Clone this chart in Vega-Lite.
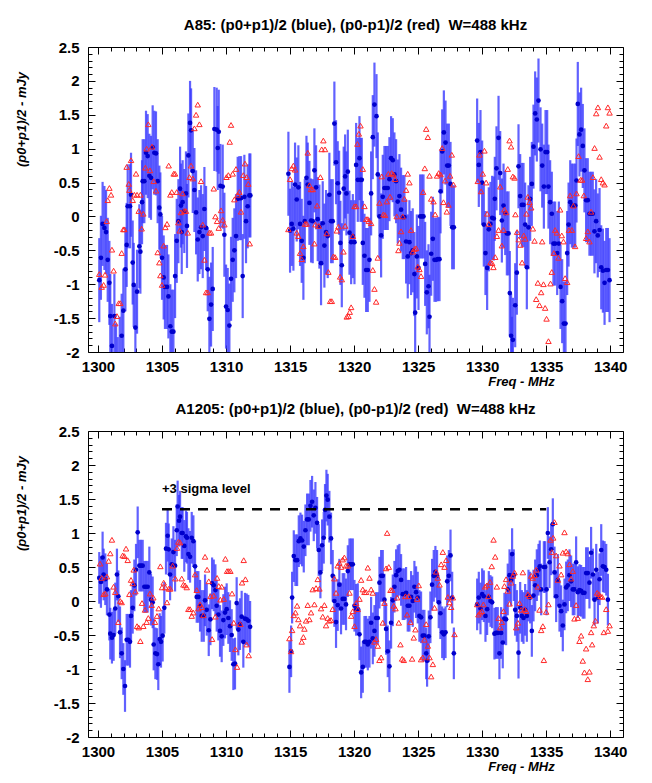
{
"$schema":"https://vega.github.io/schema/vega-lite/v6.json",
"padding":{"left":14,"top":17,"right":10,"bottom":4},
"spacing":12,
"config":{"view":{"stroke":"#000","strokeWidth":1},"font":"Liberation Sans","axis":{"labelFont":"Liberation Sans","titleFont":"Liberation Sans","labelColor":"#000","titleColor":"#000","tickColor":"#000","tickWidth":1,"grid":false,"domain":false}},
"datasets":{
"b1":[{"f":1300.10,"v":-0.94,"e":0.62},{"f":1300.23,"v":-0.61,"e":0.62},{"f":1300.36,"v":-0.11,"e":0.62},{"f":1300.50,"v":-0.17,"e":0.62},{"f":1300.63,"v":-0.23,"e":0.62},{"f":1300.76,"v":-0.64,"e":0.62},{"f":1300.89,"v":-0.98,"e":0.62},{"f":1300.96,"v":-1.47,"e":0.62},{"f":1301.09,"v":-1.91,"e":0.62},{"f":1301.28,"v":-1.47,"e":0.62},{"f":1301.41,"v":-2.2,"e":0.62},{"f":1301.54,"v":-2.4,"e":0.62},{"f":1301.70,"v":-2.1,"e":0.62},{"f":1301.85,"v":-1.76,"e":0.62},{"f":1301.98,"v":-1.39,"e":0.62},{"f":1302.14,"v":-0.78,"e":0.62},{"f":1302.24,"v":-0.42,"e":0.62},{"f":1302.32,"v":0.15,"e":0.62},{"f":1302.50,"v":0.15,"e":0.62},{"f":1302.58,"v":0.32,"e":0.62},{"f":1302.71,"v":-0.68,"e":0.62},{"f":1302.79,"v":-1.01,"e":0.62},{"f":1302.92,"v":-1.64,"e":0.62},{"f":1303.05,"v":-1.11,"e":0.62},{"f":1303.23,"v":-0.44,"e":0.62},{"f":1303.31,"v":-0.52,"e":0.62},{"f":1303.44,"v":0.21,"e":0.62},{"f":1303.49,"v":0.52,"e":0.62},{"f":1303.62,"v":0.52,"e":0.62},{"f":1303.75,"v":0.94,"e":0.62},{"f":1303.88,"v":0.89,"e":0.62},{"f":1304.01,"v":0.60,"e":0.62},{"f":1304.14,"v":0.57,"e":0.62},{"f":1304.27,"v":1.02,"e":0.62},{"f":1304.40,"v":0.94,"e":0.62},{"f":1304.53,"v":0.93,"e":0.62},{"f":1304.66,"v":0.52,"e":0.62},{"f":1304.79,"v":0.13,"e":0.62},{"f":1304.87,"v":0.03,"e":0.62},{"f":1305.00,"v":-0.61,"e":0.62},{"f":1305.13,"v":-0.90,"e":0.62},{"f":1305.23,"v":-1.04,"e":0.62},{"f":1305.39,"v":-1.04,"e":0.62},{"f":1305.50,"v":-1.18,"e":0.62},{"f":1305.65,"v":-1.62,"e":0.62},{"f":1305.76,"v":-1.70,"e":0.62},{"f":1305.89,"v":-1.70,"e":0.62},{"f":1306.02,"v":-0.88,"e":0.62},{"f":1306.15,"v":-0.36,"e":0.62},{"f":1306.28,"v":-0.07,"e":0.62},{"f":1306.41,"v":0.41,"e":0.62},{"f":1306.48,"v":0.16,"e":0.62},{"f":1306.54,"v":-0.23,"e":0.62},{"f":1306.61,"v":0.21,"e":0.62},{"f":1306.74,"v":0.08,"e":0.62},{"f":1306.87,"v":0.34,"e":0.62},{"f":1306.95,"v":-0.14,"e":0.62},{"f":1307.06,"v":0.90,"e":0.62},{"f":1307.19,"v":1.38,"e":0.62},{"f":1307.27,"v":1.27,"e":0.62},{"f":1307.40,"v":0.67,"e":0.62},{"f":1307.53,"v":0.39,"e":0.62},{"f":1307.66,"v":0.06,"e":0.62},{"f":1307.79,"v":-0.34,"e":0.62},{"f":1307.92,"v":-0.23,"e":0.62},{"f":1308.05,"v":-0.16,"e":0.62},{"f":1308.18,"v":-0.29,"e":0.62},{"f":1308.31,"v":0.11,"e":0.62},{"f":1308.44,"v":-0.17,"e":0.62},{"f":1308.57,"v":-0.78,"e":0.62},{"f":1308.70,"v":-1.51,"e":0.62},{"f":1308.83,"v":-1.30,"e":0.62},{"f":1308.96,"v":-1.07,"e":0.62},{"f":1309.09,"v":1.29,"e":0.62},{"f":1309.27,"v":1.28,"e":0.62},{"f":1309.35,"v":1.01,"e":0.62},{"f":1309.43,"v":1.25,"e":0.62},{"f":1309.56,"v":0.45,"e":0.62},{"f":1309.74,"v":0.44,"e":0.62},{"f":1309.87,"v":-0.27,"e":0.62},{"f":1310.00,"v":-1.33,"e":0.62},{"f":1310.13,"v":-1.38,"e":0.62},{"f":1310.26,"v":-1.61,"e":0.62},{"f":1310.39,"v":-0.92,"e":0.62},{"f":1310.52,"v":-0.64,"e":0.62},{"f":1310.65,"v":-0.50,"e":0.62},{"f":1310.78,"v":-0.29,"e":0.62},{"f":1310.91,"v":0.26,"e":0.62},{"f":1311.04,"v":0.27,"e":0.62},{"f":1311.17,"v":0.27,"e":0.62},{"f":1311.30,"v":-0.88,"e":0.62},{"f":1311.43,"v":0.29,"e":0.62},{"f":1311.56,"v":-0.07,"e":0.62},{"f":1311.69,"v":0.15,"e":0.62},{"f":1311.82,"v":0.31,"e":0.62},{"f":1311.90,"v":0.31,"e":0.62},
{"f":1314.87,"v":0.63,"e":0.62},{"f":1315.00,"v":-0.21,"e":0.62},{"f":1315.13,"v":-0.11,"e":0.62},{"f":1315.26,"v":-0.18,"e":0.62},{"f":1315.39,"v":0.47,"e":0.62},{"f":1315.52,"v":0.25,"e":0.62},{"f":1315.65,"v":0.43,"e":0.62},{"f":1315.78,"v":-0.11,"e":0.62},{"f":1315.91,"v":-0.36,"e":0.62},{"f":1316.04,"v":-0.61,"e":0.62},{"f":1316.15,"v":-0.07,"e":0.62},{"f":1316.28,"v":0.57,"e":0.62},{"f":1316.38,"v":0.47,"e":0.62},{"f":1316.51,"v":0.20,"e":0.62},{"f":1316.64,"v":-0.06,"e":0.62},{"f":1316.77,"v":-0.07,"e":0.62},{"f":1316.90,"v":0.68,"e":0.62},{"f":1317.03,"v":0.43,"e":0.62},{"f":1317.16,"v":-0.04,"e":0.62},{"f":1317.29,"v":-0.15,"e":0.62},{"f":1317.42,"v":-0.69,"e":0.62},{"f":1317.55,"v":-0.10,"e":0.62},{"f":1317.68,"v":-0.43,"e":0.62},{"f":1317.81,"v":-0.23,"e":0.62},{"f":1317.94,"v":-0.29,"e":0.62},{"f":1318.07,"v":0.32,"e":0.62},{"f":1318.20,"v":-0.07,"e":0.62},{"f":1318.33,"v":-0.07,"e":0.62},{"f":1318.46,"v":1.37,"e":0.62},{"f":1318.59,"v":0.80,"e":0.62},{"f":1318.72,"v":0.49,"e":0.62},{"f":1318.83,"v":0.35,"e":0.62},{"f":1318.93,"v":-0.39,"e":0.62},{"f":1319.04,"v":-0.72,"e":0.62},{"f":1319.19,"v":0.41,"e":0.62},{"f":1319.30,"v":0.59,"e":0.62},{"f":1319.40,"v":0.34,"e":0.62},{"f":1319.51,"v":0.66,"e":0.62},{"f":1319.64,"v":-0.24,"e":0.62},{"f":1319.77,"v":-0.38,"e":0.62},{"f":1319.90,"v":-0.29,"e":0.62},{"f":1320.03,"v":-0.38,"e":0.62},{"f":1320.16,"v":0.76,"e":0.62},{"f":1320.29,"v":0.54,"e":0.62},{"f":1320.42,"v":0.86,"e":0.62},{"f":1320.50,"v":0.54,"e":0.62},{"f":1320.60,"v":0.54,"e":0.62},{"f":1320.68,"v":-0.39,"e":0.62},{"f":1320.81,"v":-0.58,"e":0.62},{"f":1320.94,"v":-0.79,"e":0.62},{"f":1321.07,"v":-0.79,"e":0.62},{"f":1321.20,"v":-0.64,"e":0.62},{"f":1321.33,"v":0.34,"e":0.62},{"f":1321.46,"v":1.17,"e":0.62},{"f":1321.59,"v":1.65,"e":0.62},{"f":1321.75,"v":1.48,"e":0.62},{"f":1321.85,"v":0.62,"e":0.62},{"f":1321.98,"v":0.00,"e":0.62},{"f":1322.11,"v":-0.28,"e":0.62},{"f":1322.24,"v":0.29,"e":0.62},{"f":1322.37,"v":0.42,"e":0.62},{"f":1322.50,"v":0.42,"e":0.62},{"f":1322.63,"v":0.42,"e":0.62},{"f":1322.76,"v":0.55,"e":0.62},{"f":1322.89,"v":0.86,"e":0.62},{"f":1323.02,"v":0.83,"e":0.62},{"f":1323.15,"v":0.62,"e":0.62},{"f":1323.28,"v":0.52,"e":0.62},{"f":1323.41,"v":0.22,"e":0.62},{"f":1323.54,"v":0.30,"e":0.62},{"f":1323.67,"v":0.10,"e":0.62},{"f":1323.80,"v":-0.01,"e":0.62},{"f":1323.93,"v":-0.01,"e":0.62},{"f":1324.06,"v":-0.37,"e":0.62},{"f":1324.19,"v":-0.59,"e":0.62},{"f":1324.32,"v":-0.38,"e":0.62},{"f":1324.45,"v":-0.54,"e":0.62},{"f":1324.58,"v":-0.50,"e":0.62},{"f":1324.71,"v":-0.85,"e":0.62},{"f":1324.77,"v":-1.42,"e":0.62},{"f":1324.90,"v":-0.59,"e":0.62},{"f":1325.03,"v":-0.76,"e":0.62},{"f":1325.16,"v":0.00,"e":0.62},{"f":1325.29,"v":0.00,"e":0.62},{"f":1325.42,"v":0.00,"e":0.62},{"f":1325.55,"v":-0.70,"e":0.62},{"f":1325.68,"v":-1.12,"e":0.62},{"f":1325.81,"v":-1.03,"e":0.62},{"f":1325.89,"v":-1.48,"e":0.62},{"f":1326.02,"v":-0.55,"e":0.62},{"f":1326.15,"v":-0.33,"e":0.62},{"f":1326.28,"v":-0.64,"e":0.62},{"f":1326.41,"v":-0.64,"e":0.62},{"f":1326.54,"v":-0.63,"e":0.62},{"f":1326.67,"v":-0.63,"e":0.62},{"f":1326.75,"v":0.37,"e":0.62},{"f":1326.88,"v":0.96,"e":0.62},{"f":1327.01,"v":1.24,"e":0.62},{"f":1327.14,"v":1.09,"e":0.62},{"f":1327.27,"v":0.75,"e":0.62},{"f":1327.40,"v":0.75,"e":0.62},{"f":1327.53,"v":0.48,"e":0.62},{"f":1327.66,"v":-0.16,"e":0.62},{"f":1327.79,"v":-0.16,"e":0.62},
{"f":1329.61,"v":1.12,"e":0.62},{"f":1329.74,"v":0.76,"e":0.62},{"f":1329.87,"v":0.95,"e":0.62},{"f":1330.00,"v":0.50,"e":0.62},{"f":1330.13,"v":-0.12,"e":0.62},{"f":1330.26,"v":-0.54,"e":0.62},{"f":1330.39,"v":-0.76,"e":0.62},{"f":1330.52,"v":-0.19,"e":0.62},{"f":1330.65,"v":-0.11,"e":0.62},{"f":1330.78,"v":-0.02,"e":0.62},{"f":1330.91,"v":-0.03,"e":0.62},{"f":1330.99,"v":0.26,"e":0.62},{"f":1331.12,"v":0.71,"e":0.62},{"f":1331.28,"v":1.16,"e":0.62},{"f":1331.41,"v":0.64,"e":0.62},{"f":1331.54,"v":-0.06,"e":0.62},{"f":1331.67,"v":0.16,"e":0.62},{"f":1331.80,"v":0.05,"e":0.62},{"f":1331.93,"v":-0.25,"e":0.62},{"f":1332.06,"v":-0.25,"e":0.62},{"f":1332.16,"v":-1.13,"e":0.62},{"f":1332.26,"v":-1.76,"e":0.62},{"f":1332.33,"v":-2.1,"e":0.62},{"f":1332.40,"v":-1.82,"e":0.62},{"f":1332.58,"v":-1.31,"e":0.62},{"f":1332.71,"v":-0.83,"e":0.62},{"f":1332.84,"v":0.74,"e":0.62},{"f":1332.97,"v":0.30,"e":0.62},{"f":1333.10,"v":0.17,"e":0.62},{"f":1333.23,"v":0.17,"e":0.62},{"f":1333.36,"v":-0.12,"e":0.62},{"f":1333.49,"v":-0.75,"e":0.62},{"f":1333.62,"v":-0.16,"e":0.62},{"f":1333.75,"v":0.26,"e":0.62},{"f":1333.88,"v":0.48,"e":0.62},{"f":1334.01,"v":1.03,"e":0.62},{"f":1334.14,"v":1.52,"e":0.62},{"f":1334.27,"v":1.43,"e":0.62},{"f":1334.40,"v":1.71,"e":0.62},{"f":1334.56,"v":0.99,"e":0.62},{"f":1334.69,"v":0.75,"e":0.62},{"f":1334.82,"v":0.44,"e":0.62},{"f":1334.95,"v":0.95,"e":0.62},{"f":1335.08,"v":0.95,"e":0.62},{"f":1335.18,"v":0.44,"e":0.62},{"f":1335.31,"v":0.21,"e":0.62},{"f":1335.44,"v":0.04,"e":0.62},{"f":1335.57,"v":-0.40,"e":0.62},{"f":1335.70,"v":-0.40,"e":0.62},{"f":1335.86,"v":-0.54,"e":0.62},{"f":1335.99,"v":-0.40,"e":0.62},{"f":1336.12,"v":-1.04,"e":0.62},{"f":1336.25,"v":-1.25,"e":0.62},{"f":1336.38,"v":-1.58,"e":0.62},{"f":1336.51,"v":-1.58,"e":0.62},{"f":1336.64,"v":-0.54,"e":0.62},{"f":1336.75,"v":-0.12,"e":0.62},{"f":1336.88,"v":0.21,"e":0.62},{"f":1337.01,"v":0.16,"e":0.62},{"f":1337.14,"v":0.16,"e":0.62},{"f":1337.27,"v":0.16,"e":0.62},{"f":1337.37,"v":0.53,"e":0.62},{"f":1337.47,"v":1.66,"e":0.62},{"f":1337.60,"v":1.21,"e":0.62},{"f":1337.73,"v":1.28,"e":0.62},{"f":1337.86,"v":1.04,"e":0.62},{"f":1337.99,"v":0.68,"e":0.62},{"f":1338.12,"v":0.24,"e":0.62},{"f":1338.25,"v":0.24,"e":0.62},{"f":1338.38,"v":0.04,"e":0.62},{"f":1338.51,"v":0.04,"e":0.62},{"f":1338.64,"v":0.04,"e":0.62},{"f":1338.77,"v":-0.22,"e":0.62},{"f":1338.90,"v":-0.07,"e":0.62},{"f":1339.03,"v":-0.28,"e":0.62},{"f":1339.17,"v":-0.20,"e":0.62},{"f":1339.30,"v":-0.75,"e":0.62},{"f":1339.43,"v":-0.80,"e":0.62},{"f":1339.56,"v":-0.98,"e":0.62},{"f":1339.69,"v":-0.79,"e":0.62},{"f":1339.82,"v":-0.79,"e":0.62},{"f":1339.95,"v":-0.94,"e":0.62}],
"r1":[{"f":1300.10,"v":-0.85},{"f":1300.29,"v":-1.04},{"f":1300.44,"v":-1.01},{"f":1300.55,"v":-0.86},{"f":1300.68,"v":-0.07},{"f":1300.76,"v":0.24},{"f":1300.89,"v":0.42},{"f":1301.02,"v":0.32},{"f":1301.09,"v":-0.49},{"f":1301.22,"v":-0.80},{"f":1301.35,"v":-1.58},{"f":1301.48,"v":-1.47},{"f":1301.62,"v":-1.28},{"f":1301.74,"v":-1.28},{"f":1301.85,"v":-0.54},{"f":1301.98,"v":-0.19},{"f":1302.06,"v":-0.19},{"f":1302.24,"v":0.73},{"f":1302.40,"v":0.48},{"f":1302.45,"v":0.39},{"f":1302.58,"v":0.83},{"f":1302.71,"v":0.24},{"f":1302.84,"v":0.32},{"f":1302.97,"v":0.63},{"f":1303.05,"v":0.32},{"f":1303.18,"v":0.08},{"f":1303.31,"v":0.32},{"f":1303.41,"v":-0.18},{"f":1303.54,"v":0.04},{"f":1303.70,"v":0.72},{"f":1303.80,"v":1.00},{"f":1303.93,"v":1.36},{"f":1304.06,"v":0.68},{"f":1304.22,"v":1.03},{"f":1304.35,"v":0.52},{"f":1304.53,"v":0.38},{"f":1304.66,"v":-0.53},{"f":1304.79,"v":-0.68},{"f":1304.87,"v":-0.87},{"f":1305.00,"v":-1.01},{"f":1305.13,"v":-0.43},{"f":1305.26,"v":-0.16},{"f":1305.39,"v":-0.11},{"f":1305.52,"v":0.75},{"f":1305.65,"v":0.32},{"f":1305.76,"v":0.36},{"f":1305.91,"v":0.63},{"f":1306.02,"v":0.63},{"f":1306.15,"v":0.36},{"f":1306.28,"v":-0.09},{"f":1306.38,"v":-0.21},{"f":1306.48,"v":0.06},{"f":1306.61,"v":0.34},{"f":1306.74,"v":0.08},{"f":1306.87,"v":0.08},{"f":1307.01,"v":-0.24},{"f":1307.14,"v":0.58},{"f":1307.27,"v":0.75},{"f":1307.40,"v":0.56},{"f":1307.53,"v":1.30},{"f":1307.66,"v":1.50},{"f":1307.79,"v":1.65},{"f":1307.92,"v":1.36},{"f":1308.05,"v":0.52},{"f":1308.18,"v":-0.12},{"f":1308.31,"v":-0.64},{"f":1308.44,"v":-1.12},{"f":1308.57,"v":-1.12},{"f":1308.70,"v":-0.24},{"f":1308.83,"v":-0.24},{"f":1309.04,"v":0.41},{"f":1309.17,"v":0.00},{"f":1309.30,"v":-0.07},{"f":1309.43,"v":-0.17},{"f":1309.61,"v":0.09},{"f":1309.74,"v":-0.05},{"f":1309.87,"v":-0.12},{"f":1310.03,"v":0.58},{"f":1310.18,"v":0.61},{"f":1310.29,"v":1.10},{"f":1310.39,"v":1.35},{"f":1310.52,"v":0.63},{"f":1310.65,"v":0.25},{"f":1310.78,"v":0.70},{"f":1310.91,"v":0.32},{"f":1311.04,"v":0.36},{"f":1311.17,"v":0.07},{"f":1311.35,"v":0.61},{"f":1311.48,"v":0.78},{"f":1311.61,"v":0.58},{"f":1311.74,"v":0.48},{"f":1311.85,"v":-0.40},
{"f":1314.87,"v":-0.19},{"f":1315.00,"v":0.55},{"f":1315.13,"v":0.71},{"f":1315.26,"v":0.75},{"f":1315.39,"v":0.69},{"f":1315.52,"v":-0.24},{"f":1315.65,"v":-0.29},{"f":1315.78,"v":-0.54},{"f":1315.91,"v":-0.63},{"f":1316.04,"v":-0.44},{"f":1316.17,"v":-0.11},{"f":1316.30,"v":-0.11},{"f":1316.38,"v":0.94},{"f":1316.51,"v":0.46},{"f":1316.64,"v":0.40},{"f":1316.77,"v":0.40},{"f":1316.90,"v":-0.40},{"f":1316.98,"v":-0.12},{"f":1317.11,"v":0.16},{"f":1317.24,"v":-0.14},{"f":1317.37,"v":0.58},{"f":1317.47,"v":0.99},{"f":1317.60,"v":1.12},{"f":1317.73,"v":0.99},{"f":1317.86,"v":-0.25},{"f":1317.99,"v":-0.82},{"f":1318.13,"v":-1.25},{"f":1318.26,"v":-1.25},{"f":1318.39,"v":-0.59},{"f":1318.52,"v":-0.60},{"f":1318.65,"v":-0.21},{"f":1318.78,"v":-0.15},{"f":1318.91,"v":-0.89},{"f":1319.04,"v":-0.93},{"f":1319.17,"v":-0.52},{"f":1319.30,"v":-0.14},{"f":1319.43,"v":-1.48},{"f":1319.56,"v":-1.47},{"f":1319.66,"v":-1.41},{"f":1319.77,"v":-1.34},{"f":1319.90,"v":-0.29},{"f":1320.03,"v":0.15},{"f":1320.16,"v":0.15},{"f":1320.26,"v":1.07},{"f":1320.37,"v":1.22},{"f":1320.50,"v":1.34},{"f":1320.68,"v":0.70},{"f":1320.81,"v":0.15},{"f":1320.94,"v":-0.04},{"f":1321.07,"v":-0.04},{"f":1321.15,"v":-0.07},{"f":1321.33,"v":-0.10},{"f":1321.46,"v":-0.79},{"f":1321.59,"v":-1.07},{"f":1321.72,"v":-1.26},{"f":1321.85,"v":-0.61},{"f":1321.98,"v":0.20},{"f":1322.16,"v":0.59},{"f":1322.29,"v":0.03},{"f":1322.42,"v":0.02},{"f":1322.55,"v":0.22},{"f":1322.68,"v":0.63},{"f":1322.81,"v":0.29},{"f":1322.94,"v":0.64},{"f":1323.07,"v":0.62},{"f":1323.20,"v":0.55},{"f":1323.33,"v":0.00},{"f":1323.46,"v":-0.50},{"f":1323.54,"v":-0.39},{"f":1323.67,"v":-0.22},{"f":1323.80,"v":0.00},{"f":1323.93,"v":0.26},{"f":1324.06,"v":0.39},{"f":1324.19,"v":0.63},{"f":1324.32,"v":0.50},{"f":1324.45,"v":-0.20},{"f":1324.58,"v":-0.52},{"f":1324.71,"v":-0.48},{"f":1324.84,"v":-0.47},{"f":1324.97,"v":-0.74},{"f":1325.10,"v":-0.78},{"f":1325.23,"v":-0.88},{"f":1325.39,"v":0.36},{"f":1325.52,"v":0.71},{"f":1325.63,"v":1.29},{"f":1325.76,"v":1.17},{"f":1325.89,"v":0.60},{"f":1326.02,"v":0.26},{"f":1326.20,"v":0.22},{"f":1326.33,"v":0.03},{"f":1326.48,"v":0.60},{"f":1326.61,"v":0.64},{"f":1326.75,"v":0.62},{"f":1326.88,"v":1.01},{"f":1326.98,"v":0.21},{"f":1327.11,"v":0.53},{"f":1327.24,"v":0.07},{"f":1327.37,"v":0.17},{"f":1327.50,"v":0.60},{"f":1327.63,"v":0.91},{"f":1327.76,"v":0.47},
{"f":1329.66,"v":0.52},{"f":1329.79,"v":0.91},{"f":1329.92,"v":0.37},{"f":1330.05,"v":0.63},{"f":1330.18,"v":0.97},{"f":1330.31,"v":0.50},{"f":1330.39,"v":0.04},{"f":1330.52,"v":-0.11},{"f":1330.65,"v":-0.68},{"f":1330.78,"v":-0.69},{"f":1330.88,"v":-0.75},{"f":1331.02,"v":-0.60},{"f":1331.15,"v":-0.29},{"f":1331.28,"v":-0.20},{"f":1331.41,"v":0.44},{"f":1331.54,"v":-0.43},{"f":1331.67,"v":-0.20},{"f":1331.74,"v":0.10},{"f":1331.87,"v":0.06},{"f":1332.00,"v":0.70},{"f":1332.14,"v":1.12},{"f":1332.26,"v":1.03},{"f":1332.40,"v":0.59},{"f":1332.53,"v":0.57},{"f":1332.60,"v":0.03},{"f":1332.73,"v":-0.23},{"f":1332.86,"v":-0.34},{"f":1332.99,"v":-0.42},{"f":1333.12,"v":-0.68},{"f":1333.25,"v":-0.28},{"f":1333.36,"v":-0.33},{"f":1333.46,"v":0.04},{"f":1333.57,"v":0.29},{"f":1333.70,"v":0.21},{"f":1333.83,"v":0.13},{"f":1333.96,"v":-0.18},{"f":1334.09,"v":-0.36},{"f":1334.22,"v":-1.22},{"f":1334.35,"v":-0.98},{"f":1334.48,"v":-1.31},{"f":1334.61,"v":-1.12},{"f":1334.69,"v":-0.37},{"f":1334.79,"v":-1.00},{"f":1334.92,"v":-1.35},{"f":1335.03,"v":-1.51},{"f":1335.18,"v":-1.84},{"f":1335.34,"v":-0.99},{"f":1335.44,"v":-0.82},{"f":1335.60,"v":-0.54},{"f":1335.70,"v":-0.20},{"f":1335.83,"v":-0.24},{"f":1335.96,"v":-0.61},{"f":1336.09,"v":0.10},{"f":1336.22,"v":-0.28},{"f":1336.35,"v":-0.37},{"f":1336.48,"v":-0.91},{"f":1336.64,"v":-0.97},{"f":1336.77,"v":-0.20},{"f":1336.87,"v":0.31},{"f":1337.00,"v":-0.20},{"f":1337.13,"v":0.16},{"f":1337.26,"v":-0.44},{"f":1337.37,"v":0.34},{"f":1337.53,"v":0.89},{"f":1337.68,"v":0.54},{"f":1337.81,"v":0.54},{"f":1337.94,"v":0.31},{"f":1338.12,"v":-0.32},{"f":1338.25,"v":-0.22},{"f":1338.38,"v":-0.37},{"f":1338.51,"v":0.07},{"f":1338.65,"v":0.58},{"f":1338.78,"v":1.01},{"f":1338.91,"v":1.52},{"f":1339.04,"v":1.61},{"f":1339.17,"v":0.88},{"f":1339.30,"v":0.55},{"f":1339.43,"v":0.50},{"f":1339.56,"v":0.47},{"f":1339.69,"v":1.34},{"f":1339.82,"v":1.61},{"f":1339.95,"v":1.53}],
"b2":[{"f":1300.10,"v":0.34,"e":0.38},{"f":1300.23,"v":0.28,"e":0.38},{"f":1300.36,"v":0.64,"e":0.38},{"f":1300.44,"v":0.39,"e":0.38},{"f":1300.57,"v":0.32,"e":0.38},{"f":1300.70,"v":0.17,"e":0.38},{"f":1300.89,"v":-0.20,"e":0.38},{"f":1300.96,"v":-0.48,"e":0.38},{"f":1301.09,"v":-0.54,"e":0.38},{"f":1301.22,"v":-0.50,"e":0.38},{"f":1301.35,"v":-0.11,"e":0.38},{"f":1301.48,"v":0.39,"e":0.38},{"f":1301.59,"v":0.07,"e":0.38},{"f":1301.72,"v":-0.46,"e":0.38},{"f":1301.85,"v":-0.77,"e":0.38},{"f":1301.98,"v":-1.00,"e":0.38},{"f":1302.11,"v":-1.25,"e":0.38},{"f":1302.24,"v":-0.57,"e":0.38},{"f":1302.37,"v":-0.57,"e":0.38},{"f":1302.50,"v":-0.60,"e":0.38},{"f":1302.58,"v":-0.22,"e":0.38},{"f":1302.71,"v":-0.10,"e":0.38},{"f":1302.84,"v":0.23,"e":0.38},{"f":1302.97,"v":0.46,"e":0.38},{"f":1303.10,"v":1.01,"e":0.38},{"f":1303.23,"v":0.52,"e":0.38},{"f":1303.36,"v":0.52,"e":0.38},{"f":1303.49,"v":0.52,"e":0.38},{"f":1303.62,"v":0.21,"e":0.38},{"f":1303.75,"v":0.21,"e":0.38},{"f":1303.88,"v":0.21,"e":0.38},{"f":1304.01,"v":0.42,"e":0.38},{"f":1304.14,"v":0.02,"e":0.38},{"f":1304.27,"v":-0.02,"e":0.38},{"f":1304.35,"v":-0.64,"e":0.38},{"f":1304.48,"v":-0.77,"e":0.38},{"f":1304.61,"v":-0.78,"e":0.38},{"f":1304.71,"v":-0.93,"e":0.38},{"f":1304.82,"v":-0.56,"e":0.38},{"f":1304.92,"v":-0.60,"e":0.38},{"f":1305.05,"v":-0.51,"e":0.38},{"f":1305.18,"v":-0.10,"e":0.38},{"f":1305.31,"v":0.77,"e":0.38},{"f":1305.44,"v":0.96,"e":0.38},{"f":1305.52,"v":0.76,"e":0.38},{"f":1305.63,"v":0.39,"e":0.38},{"f":1305.76,"v":0.54,"e":0.38},{"f":1305.89,"v":0.72,"e":0.38},{"f":1306.02,"v":0.52,"e":0.38},{"f":1306.15,"v":1.04,"e":0.38},{"f":1306.22,"v":1.39,"e":0.38},{"f":1306.33,"v":1.18,"e":0.38},{"f":1306.41,"v":1.24,"e":0.38},{"f":1306.54,"v":1.00,"e":0.38},{"f":1306.61,"v":1.00,"e":0.38},{"f":1306.74,"v":0.81,"e":0.38},{"f":1306.87,"v":0.95,"e":0.38},{"f":1306.95,"v":0.93,"e":0.38},{"f":1307.06,"v":0.69,"e":0.38},{"f":1307.19,"v":0.65,"e":0.38},{"f":1307.32,"v":0.93,"e":0.38},{"f":1307.45,"v":0.88,"e":0.38},{"f":1307.58,"v":0.51,"e":0.38},{"f":1307.71,"v":0.06,"e":0.38},{"f":1307.84,"v":0.06,"e":0.38},{"f":1307.97,"v":-0.07,"e":0.38},{"f":1308.10,"v":-0.22,"e":0.38},{"f":1308.26,"v":-0.22,"e":0.38},{"f":1308.36,"v":0.01,"e":0.38},{"f":1308.49,"v":-0.13,"e":0.38},{"f":1308.65,"v":-0.43,"e":0.38},{"f":1308.78,"v":-0.27,"e":0.38},{"f":1308.91,"v":0.26,"e":0.38},{"f":1309.04,"v":0.23,"e":0.38},{"f":1309.17,"v":0.16,"e":0.38},{"f":1309.27,"v":-0.07,"e":0.38},{"f":1309.40,"v":-0.20,"e":0.38},{"f":1309.53,"v":-0.44,"e":0.38},{"f":1309.66,"v":-0.52,"e":0.38},{"f":1309.79,"v":-0.28,"e":0.38},{"f":1309.92,"v":-0.17,"e":0.38},{"f":1310.05,"v":-0.12,"e":0.38},{"f":1310.18,"v":-0.25,"e":0.38},{"f":1310.31,"v":-0.37,"e":0.38},{"f":1310.44,"v":-0.50,"e":0.38},{"f":1310.57,"v":-0.93,"e":0.38},{"f":1310.70,"v":-0.92,"e":0.38},{"f":1310.83,"v":-0.03,"e":0.38},{"f":1310.96,"v":-0.42,"e":0.38},{"f":1311.09,"v":-0.34,"e":0.38},{"f":1311.22,"v":-0.23,"e":0.38},{"f":1311.35,"v":-0.60,"e":0.38},{"f":1311.48,"v":-0.26,"e":0.38},{"f":1311.61,"v":-0.27,"e":0.38},{"f":1311.74,"v":-0.29,"e":0.38},{"f":1311.88,"v":-0.38,"e":0.38},
{"f":1314.95,"v":-0.97,"e":0.38},{"f":1315.08,"v":-0.74,"e":0.38},{"f":1315.16,"v":0.05,"e":0.38},{"f":1315.29,"v":0.66,"e":0.38},{"f":1315.42,"v":0.60,"e":0.38},{"f":1315.55,"v":0.60,"e":0.38},{"f":1315.68,"v":0.88,"e":0.38},{"f":1315.81,"v":0.92,"e":0.38},{"f":1315.94,"v":0.89,"e":0.38},{"f":1316.07,"v":0.80,"e":0.38},{"f":1316.20,"v":1.04,"e":0.38},{"f":1316.33,"v":1.20,"e":0.38},{"f":1316.46,"v":1.20,"e":0.38},{"f":1316.59,"v":1.40,"e":0.38},{"f":1316.72,"v":1.46,"e":0.38},{"f":1316.85,"v":1.26,"e":0.38},{"f":1316.98,"v":1.37,"e":0.38},{"f":1317.11,"v":1.15,"e":0.38},{"f":1317.24,"v":0.75,"e":0.38},{"f":1317.37,"v":0.42,"e":0.38},{"f":1317.50,"v":0.82,"e":0.38},{"f":1317.63,"v":0.93,"e":0.38},{"f":1317.73,"v":1.34,"e":0.38},{"f":1317.84,"v":1.55,"e":0.38},{"f":1317.94,"v":1.49,"e":0.38},{"f":1318.07,"v":1.24,"e":0.38},{"f":1318.20,"v":0.92,"e":0.38},{"f":1318.33,"v":0.37,"e":0.38},{"f":1318.46,"v":0.00,"e":0.38},{"f":1318.59,"v":-0.31,"e":0.38},{"f":1318.72,"v":-0.06,"e":0.38},{"f":1318.85,"v":0.24,"e":0.38},{"f":1318.98,"v":-0.11,"e":0.38},{"f":1319.11,"v":0.03,"e":0.38},{"f":1319.24,"v":0.03,"e":0.38},{"f":1319.37,"v":-0.05,"e":0.38},{"f":1319.51,"v":0.44,"e":0.38},{"f":1319.64,"v":0.54,"e":0.38},{"f":1319.77,"v":0.54,"e":0.38},{"f":1319.90,"v":0.54,"e":0.38},{"f":1320.03,"v":-0.07,"e":0.38},{"f":1320.16,"v":-0.13,"e":0.38},{"f":1320.29,"v":-0.12,"e":0.38},{"f":1320.42,"v":-0.49,"e":0.38},{"f":1320.55,"v":-1.05,"e":0.38},{"f":1320.68,"v":-0.97,"e":0.38},{"f":1320.81,"v":-0.60,"e":0.38},{"f":1320.94,"v":-0.60,"e":0.38},{"f":1321.07,"v":-0.64,"e":0.38},{"f":1321.20,"v":-0.60,"e":0.38},{"f":1321.33,"v":-0.32,"e":0.38},{"f":1321.46,"v":-0.55,"e":0.38},{"f":1321.59,"v":-0.44,"e":0.38},{"f":1321.72,"v":-0.25,"e":0.38},{"f":1321.85,"v":-0.25,"e":0.38},{"f":1321.98,"v":0.27,"e":0.38},{"f":1322.11,"v":0.37,"e":0.38},{"f":1322.24,"v":0.37,"e":0.38},{"f":1322.37,"v":0.02,"e":0.38},{"f":1322.50,"v":-0.41,"e":0.38},{"f":1322.63,"v":-0.74,"e":0.38},{"f":1322.76,"v":-0.96,"e":0.38},{"f":1322.89,"v":-0.32,"e":0.38},{"f":1323.02,"v":0.01,"e":0.38},{"f":1323.15,"v":0.21,"e":0.38},{"f":1323.28,"v":0.38,"e":0.38},{"f":1323.41,"v":0.44,"e":0.38},{"f":1323.54,"v":0.46,"e":0.38},{"f":1323.67,"v":0.31,"e":0.38},{"f":1323.80,"v":0.10,"e":0.38},{"f":1323.93,"v":0.10,"e":0.38},{"f":1324.06,"v":0.12,"e":0.38},{"f":1324.19,"v":-0.07,"e":0.38},{"f":1324.32,"v":-0.07,"e":0.38},{"f":1324.45,"v":0.06,"e":0.38},{"f":1324.58,"v":0.00,"e":0.38},{"f":1324.71,"v":0.21,"e":0.38},{"f":1324.84,"v":0.13,"e":0.38},{"f":1324.97,"v":0.05,"e":0.38},{"f":1325.10,"v":-0.22,"e":0.38},{"f":1325.23,"v":-0.24,"e":0.38},{"f":1325.36,"v":-0.51,"e":0.38},{"f":1325.49,"v":-0.51,"e":0.38},{"f":1325.63,"v":-0.77,"e":0.38},{"f":1325.70,"v":-0.88,"e":0.38},{"f":1325.83,"v":-0.52,"e":0.38},{"f":1325.96,"v":-0.24,"e":0.38},{"f":1326.09,"v":0.24,"e":0.38},{"f":1326.22,"v":0.37,"e":0.38},{"f":1326.35,"v":0.43,"e":0.38},{"f":1326.48,"v":0.37,"e":0.38},{"f":1326.61,"v":-0.02,"e":0.38},{"f":1326.74,"v":-0.18,"e":0.38},{"f":1326.88,"v":-0.46,"e":0.38},{"f":1327.01,"v":-0.49,"e":0.38},{"f":1327.14,"v":-0.46,"e":0.38},{"f":1327.27,"v":0.29,"e":0.38},{"f":1327.40,"v":0.37,"e":0.38},{"f":1327.53,"v":0.67,"e":0.38},{"f":1327.66,"v":0.05,"e":0.38},{"f":1327.79,"v":-0.77,"e":0.38},
{"f":1329.61,"v":-0.05,"e":0.38},{"f":1329.74,"v":0.05,"e":0.38},{"f":1329.87,"v":-0.11,"e":0.38},{"f":1330.00,"v":0.10,"e":0.38},{"f":1330.13,"v":0.07,"e":0.38},{"f":1330.26,"v":-0.22,"e":0.38},{"f":1330.39,"v":-0.12,"e":0.38},{"f":1330.52,"v":0.06,"e":0.38},{"f":1330.65,"v":0.00,"e":0.38},{"f":1330.78,"v":-0.02,"e":0.38},{"f":1330.96,"v":-0.48,"e":0.38},{"f":1331.09,"v":-0.47,"e":0.38},{"f":1331.22,"v":-0.47,"e":0.38},{"f":1331.35,"v":-0.77,"e":0.38},{"f":1331.48,"v":-0.47,"e":0.38},{"f":1331.61,"v":-0.61,"e":0.38},{"f":1331.74,"v":-0.26,"e":0.38},{"f":1331.87,"v":-0.27,"e":0.38},{"f":1332.00,"v":0.17,"e":0.38},{"f":1332.14,"v":0.38,"e":0.38},{"f":1332.26,"v":0.31,"e":0.38},{"f":1332.34,"v":0.69,"e":0.38},{"f":1332.47,"v":0.38,"e":0.38},{"f":1332.58,"v":-0.13,"e":0.38},{"f":1332.71,"v":-0.22,"e":0.38},{"f":1332.84,"v":-0.76,"e":0.38},{"f":1332.97,"v":-0.10,"e":0.38},{"f":1333.10,"v":-0.22,"e":0.38},{"f":1333.23,"v":-0.25,"e":0.38},{"f":1333.36,"v":-0.13,"e":0.38},{"f":1333.49,"v":-0.22,"e":0.38},{"f":1333.62,"v":0.08,"e":0.38},{"f":1333.75,"v":0.05,"e":0.38},{"f":1333.88,"v":-0.44,"e":0.38},{"f":1334.01,"v":0.08,"e":0.38},{"f":1334.14,"v":0.23,"e":0.38},{"f":1334.27,"v":0.38,"e":0.38},{"f":1334.40,"v":0.46,"e":0.38},{"f":1334.50,"v":0.51,"e":0.38},{"f":1334.61,"v":0.17,"e":0.38},{"f":1334.82,"v":0.50,"e":0.38},{"f":1334.92,"v":0.50,"e":0.38},{"f":1335.03,"v":0.17,"e":0.38},{"f":1335.13,"v":1.00,"e":0.38},{"f":1335.26,"v":0.57,"e":0.38},{"f":1335.39,"v":0.76,"e":0.38},{"f":1335.52,"v":1.13,"e":0.38},{"f":1335.65,"v":0.42,"e":0.38},{"f":1335.78,"v":0.07,"e":0.38},{"f":1335.91,"v":0.31,"e":0.38},{"f":1336.04,"v":-0.07,"e":0.38},{"f":1336.17,"v":-0.15,"e":0.38},{"f":1336.30,"v":-0.36,"e":0.38},{"f":1336.43,"v":-0.05,"e":0.38},{"f":1336.56,"v":0.20,"e":0.38},{"f":1336.69,"v":0.23,"e":0.38},{"f":1336.82,"v":0.38,"e":0.38},{"f":1336.95,"v":0.29,"e":0.38},{"f":1337.08,"v":0.17,"e":0.38},{"f":1337.21,"v":0.17,"e":0.38},{"f":1337.34,"v":0.57,"e":0.38},{"f":1337.47,"v":0.13,"e":0.38},{"f":1337.60,"v":0.16,"e":0.38},{"f":1337.73,"v":0.15,"e":0.38},{"f":1337.86,"v":0.12,"e":0.38},{"f":1337.99,"v":0.12,"e":0.38},{"f":1338.12,"v":0.41,"e":0.38},{"f":1338.25,"v":0.41,"e":0.38},{"f":1338.38,"v":0.27,"e":0.38},{"f":1338.51,"v":0.71,"e":0.38},{"f":1338.65,"v":0.39,"e":0.38},{"f":1338.78,"v":0.02,"e":0.38},{"f":1338.91,"v":0.46,"e":0.38},{"f":1339.04,"v":0.05,"e":0.38},{"f":1339.17,"v":0.32,"e":0.38},{"f":1339.30,"v":0.75,"e":0.38},{"f":1339.43,"v":0.51,"e":0.38},{"f":1339.56,"v":0.50,"e":0.38},{"f":1339.69,"v":0.46,"e":0.38},{"f":1339.82,"v":0.02,"e":0.38}],
"r2":[{"f":1300.16,"v":0.55},{"f":1300.29,"v":0.34},{"f":1300.44,"v":0.10},{"f":1300.57,"v":0.11},{"f":1300.70,"v":0.36},{"f":1300.83,"v":0.59},{"f":1300.96,"v":0.70},{"f":1301.09,"v":0.90},{"f":1301.22,"v":0.21},{"f":1301.35,"v":0.13},{"f":1301.59,"v":-0.31},{"f":1301.74,"v":0.00},{"f":1301.85,"v":-0.02},{"f":1301.93,"v":0.67},{"f":1302.06,"v":0.66},{"f":1302.19,"v":0.77},{"f":1302.32,"v":0.60},{"f":1302.45,"v":0.10},{"f":1302.58,"v":0.31},{"f":1302.71,"v":0.26},{"f":1302.79,"v":0.46},{"f":1302.92,"v":0.14},{"f":1303.05,"v":-0.37},{"f":1303.18,"v":-0.39},{"f":1303.31,"v":-0.59},{"f":1303.44,"v":-0.03},{"f":1303.54,"v":-0.37},{"f":1303.67,"v":-0.13},{"f":1303.80,"v":-0.31},{"f":1303.93,"v":-0.25},{"f":1304.06,"v":0.11},{"f":1304.19,"v":-0.06},{"f":1304.32,"v":0.05},{"f":1304.45,"v":-0.31},{"f":1304.61,"v":-0.22},{"f":1304.74,"v":-0.11},{"f":1304.87,"v":0.51},{"f":1305.00,"v":0.20},{"f":1305.13,"v":0.27},{"f":1305.26,"v":0.20},{"f":1305.39,"v":-0.02},{"f":1305.52,"v":0.18},{"f":1305.65,"v":0.18},{"f":1305.83,"v":0.52},{"f":1306.04,"v":0.33},{"f":1306.17,"v":0.78},{"f":1306.28,"v":0.87},{"f":1306.41,"v":0.86},{"f":1306.54,"v":0.33},{"f":1306.67,"v":0.24},{"f":1306.80,"v":0.23},{"f":1306.93,"v":0.20},{"f":1307.06,"v":-0.12},{"f":1307.19,"v":-0.12},{"f":1307.32,"v":-0.22},{"f":1307.45,"v":-0.17},{"f":1307.58,"v":0.39},{"f":1307.71,"v":0.16},{"f":1307.84,"v":-0.11},{"f":1307.97,"v":-0.05},{"f":1308.10,"v":-0.09},{"f":1308.23,"v":-0.21},{"f":1308.36,"v":0.65},{"f":1308.52,"v":0.46},{"f":1308.65,"v":0.29},{"f":1308.78,"v":0.07},{"f":1308.91,"v":-0.56},{"f":1309.04,"v":0.08},{"f":1309.17,"v":-0.23},{"f":1309.30,"v":0.34},{"f":1309.43,"v":0.22},{"f":1309.56,"v":0.02},{"f":1309.66,"v":0.21},{"f":1309.82,"v":0.03},{"f":1309.95,"v":0.62},{"f":1310.08,"v":0.44},{"f":1310.21,"v":0.44},{"f":1310.34,"v":0.44},{"f":1310.47,"v":0.11},{"f":1310.60,"v":-0.32},{"f":1310.73,"v":-0.71},{"f":1310.86,"v":-0.97},{"f":1311.12,"v":-0.34},{"f":1311.25,"v":0.27},{"f":1311.38,"v":0.60},{"f":1311.51,"v":0.32},{"f":1311.61,"v":-0.64},{"f":1311.77,"v":-0.80},
{"f":1314.95,"v":-0.55},{"f":1315.08,"v":-0.74},{"f":1315.16,"v":-0.43},{"f":1315.29,"v":-0.21},{"f":1315.42,"v":-0.17},{"f":1315.55,"v":-0.07},{"f":1315.65,"v":-0.27},{"f":1315.78,"v":-0.36},{"f":1315.91,"v":-0.60},{"f":1316.04,"v":-0.53},{"f":1316.12,"v":-0.41},{"f":1316.25,"v":-0.29},{"f":1316.38,"v":-0.06},{"f":1316.51,"v":-0.27},{"f":1316.64,"v":-0.17},{"f":1316.77,"v":0.17},{"f":1316.90,"v":-0.05},{"f":1317.03,"v":0.19},{"f":1317.16,"v":0.32},{"f":1317.29,"v":0.18},{"f":1317.42,"v":-0.11},{"f":1317.55,"v":-0.23},{"f":1317.68,"v":-0.06},{"f":1317.81,"v":-0.36},{"f":1317.94,"v":-0.25},{"f":1318.07,"v":-0.29},{"f":1318.20,"v":-0.28},{"f":1318.33,"v":-0.12},{"f":1318.46,"v":0.33},{"f":1318.59,"v":0.12},{"f":1318.72,"v":0.52},{"f":1318.85,"v":0.56},{"f":1318.98,"v":0.50},{"f":1319.11,"v":0.61},{"f":1319.24,"v":0.64},{"f":1319.37,"v":0.52},{"f":1319.51,"v":0.52},{"f":1319.64,"v":0.12},{"f":1319.77,"v":-0.22},{"f":1319.90,"v":-0.15},{"f":1320.03,"v":-0.37},{"f":1320.16,"v":-0.03},{"f":1320.29,"v":-0.12},{"f":1320.42,"v":0.03},{"f":1320.55,"v":0.31},{"f":1320.68,"v":0.17},{"f":1320.81,"v":0.13},{"f":1320.94,"v":0.13},{"f":1321.07,"v":0.49},{"f":1321.20,"v":0.34},{"f":1321.33,"v":0.17},{"f":1321.46,"v":0.12},{"f":1321.59,"v":-0.60},{"f":1321.72,"v":-0.56},{"f":1321.85,"v":-0.66},{"f":1321.98,"v":-0.87},{"f":1322.11,"v":-0.83},{"f":1322.24,"v":-0.32},{"f":1322.37,"v":-0.03},{"f":1322.50,"v":0.48},{"f":1322.58,"v":1.00},{"f":1322.71,"v":0.50},{"f":1322.84,"v":0.16},{"f":1322.97,"v":0.16},{"f":1323.10,"v":-0.07},{"f":1323.23,"v":-0.11},{"f":1323.36,"v":0.05},{"f":1323.49,"v":-0.32},{"f":1323.62,"v":-0.64},{"f":1323.75,"v":-0.85},{"f":1323.88,"v":-0.87},{"f":1324.01,"v":0.07},{"f":1324.14,"v":-0.20},{"f":1324.27,"v":0.07},{"f":1324.40,"v":-0.31},{"f":1324.53,"v":-0.85},{"f":1324.66,"v":-0.54},{"f":1324.79,"v":-0.42},{"f":1324.92,"v":0.03},{"f":1325.05,"v":0.23},{"f":1325.23,"v":-0.86},{"f":1325.36,"v":-0.83},{"f":1325.49,"v":-0.57},{"f":1325.63,"v":-0.34},{"f":1325.76,"v":-0.66},{"f":1325.89,"v":-0.83},{"f":1326.02,"v":-1.11},{"f":1326.15,"v":-0.93},{"f":1326.28,"v":-0.10},{"f":1326.41,"v":0.43},{"f":1326.54,"v":0.34},{"f":1326.67,"v":0.24},{"f":1326.80,"v":0.54},{"f":1326.93,"v":0.72},{"f":1327.06,"v":0.50},{"f":1327.19,"v":0.60},{"f":1327.32,"v":0.06},{"f":1327.45,"v":-0.02},{"f":1327.58,"v":-0.09},{"f":1327.71,"v":0.05},{"f":1327.84,"v":-0.49},
{"f":1329.61,"v":-0.05},{"f":1329.71,"v":-0.20},{"f":1329.84,"v":-0.17},{"f":1329.97,"v":-0.15},{"f":1330.10,"v":-0.05},{"f":1330.23,"v":0.21},{"f":1330.36,"v":0.23},{"f":1330.49,"v":0.07},{"f":1330.62,"v":0.28},{"f":1330.75,"v":0.51},{"f":1330.89,"v":0.90},{"f":1331.02,"v":0.65},{"f":1331.15,"v":0.21},{"f":1331.28,"v":-0.25},{"f":1331.41,"v":-0.39},{"f":1331.54,"v":-0.31},{"f":1331.67,"v":-0.15},{"f":1331.74,"v":0.22},{"f":1331.87,"v":0.32},{"f":1332.00,"v":0.15},{"f":1332.14,"v":-0.04},{"f":1332.26,"v":0.27},{"f":1332.40,"v":0.37},{"f":1332.53,"v":0.42},{"f":1332.66,"v":-0.39},{"f":1332.79,"v":-0.32},{"f":1332.92,"v":-0.03},{"f":1333.05,"v":-0.13},{"f":1333.18,"v":0.42},{"f":1333.31,"v":-0.12},{"f":1333.44,"v":-0.15},{"f":1333.57,"v":0.10},{"f":1333.70,"v":0.07},{"f":1333.83,"v":0.37},{"f":1333.96,"v":0.34},{"f":1334.09,"v":0.38},{"f":1334.22,"v":0.46},{"f":1334.35,"v":0.21},{"f":1334.48,"v":-0.13},{"f":1334.61,"v":-0.43},{"f":1334.74,"v":-0.37},{"f":1334.82,"v":-0.87},{"f":1335.00,"v":-0.16},{"f":1335.18,"v":-0.05},{"f":1335.34,"v":0.90},{"f":1335.44,"v":0.72},{"f":1335.55,"v":0.93},{"f":1335.65,"v":1.16},{"f":1335.78,"v":0.67},{"f":1335.91,"v":0.31},{"f":1336.04,"v":0.52},{"f":1336.17,"v":0.39},{"f":1336.30,"v":0.71},{"f":1336.43,"v":1.01},{"f":1336.56,"v":0.73},{"f":1336.69,"v":0.70},{"f":1336.82,"v":0.54},{"f":1336.95,"v":0.33},{"f":1337.08,"v":0.44},{"f":1337.21,"v":-0.26},{"f":1337.34,"v":-0.06},{"f":1337.47,"v":-0.25},{"f":1337.60,"v":-0.59},{"f":1337.73,"v":-0.51},{"f":1337.86,"v":-0.88},{"f":1337.99,"v":-1.05},{"f":1338.12,"v":-0.70},{"f":1338.25,"v":-1.15},{"f":1338.38,"v":-1.04},{"f":1338.51,"v":-0.46},{"f":1338.59,"v":-0.64},{"f":1338.72,"v":-0.36},{"f":1338.85,"v":-0.29},{"f":1338.98,"v":0.12},{"f":1339.11,"v":0.10},{"f":1339.24,"v":0.07},{"f":1339.37,"v":0.06},{"f":1339.50,"v":-0.46},{"f":1339.69,"v":-0.12},{"f":1339.82,"v":-0.44},{"f":1339.95,"v":-0.36}],
"sig":[{"x1":1305,"x2":1335,"y":1.35}],
"lab":[{"x":1305,"y":1.64,"t":"+3 sigma level"}]
},
"vconcat":[
{"width":535,"height":305,
"title":{"text":"A85: (p0+p1)/2 (blue), (p0-p1)/2 (red) \u00a0W=488 kHz","fontSize":15,"fontWeight":"bold","font":"Liberation Sans","offset":7,"frame":"group","color":"#000"},
"resolve":{"axis":{"x":"independent","y":"independent"}},
"layer":[
{"data":{"name":"b1"},"mark":{"type":"errorbar","clip":true,"ticks":false,"rule":{"stroke":"#3a3aff","strokeWidth":2.2,"opacity":0.8}},
"encoding":{"x":{"field":"f","type":"quantitative","scale":{"domain":[1299.22,1341],"nice":false,"zero":false},"axis":{"orient":"bottom","values":[1300,1305,1310,1315,1320,1325,1330,1335,1340],"tickSize":-7,"labelPadding":14,"labelFontSize":15,"labelFontWeight":"bold","format":"d","labelFlush":false,"labelOverlap":false,"title":"Freq - MHz","titleFontSize":13,"titleFontWeight":"bold","titleFontStyle":"italic","titleX":433,"titleY":23,"titleAlign":"center","titleBaseline":"top"}},
"y":{"field":"v","type":"quantitative","scale":{"domain":[-2,2.5],"nice":false,"zero":false},"axis":{"orient":"left","values":[-2,-1.5,-1,-0.5,0,0.5,1,1.5,2,2.5],"tickSize":-7,"labelPadding":16,"labelFontSize":15,"labelFontWeight":"bold","labelExpr":"'' + datum.value","labelFlush":false,"labelOverlap":false,"title":"(p0+p1)/2 - mJy","titleFontSize":13,"titleFontWeight":"bold","titleFontStyle":"italic","titleAngle":-90,"titleX":-60,"titleY":72,"titleAlign":"center","titleBaseline":"bottom"}},
"yError":{"field":"e"}}},
{"data":{"name":"b1"},"mark":{"type":"point","shape":"circle","filled":true,"color":"#0000cc","size":22,"opacity":1,"clip":true},
"encoding":{"x":{"field":"f","type":"quantitative","scale":{"domain":[1299.22,1341],"nice":false,"zero":false},"axis":{"orient":"bottom","values":[1301,1302,1303,1304,1306,1307,1308,1309,1311,1312,1313,1314,1316,1317,1318,1319,1321,1322,1323,1324,1326,1327,1328,1329,1331,1332,1333,1334,1336,1337,1338,1339],"tickSize":-4,"labels":false,"title":null}},
"y":{"field":"v","type":"quantitative","scale":{"domain":[-2,2.5],"nice":false,"zero":false},"axis":{"orient":"left","values":[-1.9,-1.8,-1.7,-1.6,-1.4,-1.3,-1.2,-1.1,-0.9,-0.8,-0.7,-0.6,-0.4,-0.3,-0.2,-0.1,0.1,0.2,0.3,0.4,0.6,0.7,0.8,0.9,1.1,1.2,1.3,1.4,1.6,1.7,1.8,1.9,2.1,2.2,2.3,2.4],"tickSize":-4,"labels":false,"title":null}}}},
{"data":{"name":"r1"},"mark":{"type":"point","shape":"triangle-up","filled":false,"stroke":"#ff2a2a","strokeWidth":1,"size":30,"opacity":1,"clip":true},
"encoding":{"x":{"field":"f","type":"quantitative","scale":{"domain":[1299.22,1341],"nice":false,"zero":false},"axis":{"orient":"top","values":[1300,1305,1310,1315,1320,1325,1330,1335,1340],"tickSize":-7,"labels":false,"title":null}},
"y":{"field":"v","type":"quantitative","scale":{"domain":[-2,2.5],"nice":false,"zero":false},"axis":{"orient":"right","values":[-2,-1.5,-1,-0.5,0,0.5,1,1.5,2,2.5],"tickSize":-7,"labels":false,"title":null}}}},
{"data":{"name":"r1"},"mark":{"type":"point","opacity":0},
"encoding":{"x":{"field":"f","type":"quantitative","scale":{"domain":[1299.22,1341],"nice":false,"zero":false},"axis":{"orient":"top","values":[1301,1302,1303,1304,1306,1307,1308,1309,1311,1312,1313,1314,1316,1317,1318,1319,1321,1322,1323,1324,1326,1327,1328,1329,1331,1332,1333,1334,1336,1337,1338,1339],"tickSize":-4,"labels":false,"title":null}},
"y":{"field":"v","type":"quantitative","scale":{"domain":[-2,2.5],"nice":false,"zero":false},"axis":{"orient":"right","values":[-1.9,-1.8,-1.7,-1.6,-1.4,-1.3,-1.2,-1.1,-0.9,-0.8,-0.7,-0.6,-0.4,-0.3,-0.2,-0.1,0.1,0.2,0.3,0.4,0.6,0.7,0.8,0.9,1.1,1.2,1.3,1.4,1.6,1.7,1.8,1.9,2.1,2.2,2.3,2.4],"tickSize":-4,"labels":false,"title":null}}}}
]},
{"width":535,"height":306,
"title":{"text":"A1205: (p0+p1)/2 (blue), (p0-p1)/2 (red) \u00a0W=488 kHz","fontSize":15,"fontWeight":"bold","font":"Liberation Sans","offset":7,"frame":"group","color":"#000"},
"resolve":{"axis":{"x":"independent","y":"independent"}},
"layer":[
{"data":{"name":"b2"},"mark":{"type":"errorbar","clip":true,"ticks":false,"rule":{"stroke":"#3a3aff","strokeWidth":2.2,"opacity":0.8}},
"encoding":{"x":{"field":"f","type":"quantitative","scale":{"domain":[1299.22,1341],"nice":false,"zero":false},"axis":{"orient":"bottom","values":[1300,1305,1310,1315,1320,1325,1330,1335,1340],"tickSize":-7,"labelPadding":14,"labelFontSize":15,"labelFontWeight":"bold","format":"d","labelFlush":false,"labelOverlap":false,"title":"Freq - MHz","titleFontSize":13,"titleFontWeight":"bold","titleFontStyle":"italic","titleX":433,"titleY":23,"titleAlign":"center","titleBaseline":"top"}},
"y":{"field":"v","type":"quantitative","scale":{"domain":[-2,2.5],"nice":false,"zero":false},"axis":{"orient":"left","values":[-2,-1.5,-1,-0.5,0,0.5,1,1.5,2,2.5],"tickSize":-7,"labelPadding":16,"labelFontSize":15,"labelFontWeight":"bold","labelExpr":"'' + datum.value","labelFlush":false,"labelOverlap":false,"title":"(p0+p1)/2 - mJy","titleFontSize":13,"titleFontWeight":"bold","titleFontStyle":"italic","titleAngle":-90,"titleX":-60,"titleY":72,"titleAlign":"center","titleBaseline":"bottom"}},
"yError":{"field":"e"}}},
{"data":{"name":"b2"},"mark":{"type":"point","shape":"circle","filled":true,"color":"#0000cc","size":22,"opacity":1,"clip":true},
"encoding":{"x":{"field":"f","type":"quantitative","scale":{"domain":[1299.22,1341],"nice":false,"zero":false},"axis":{"orient":"bottom","values":[1301,1302,1303,1304,1306,1307,1308,1309,1311,1312,1313,1314,1316,1317,1318,1319,1321,1322,1323,1324,1326,1327,1328,1329,1331,1332,1333,1334,1336,1337,1338,1339],"tickSize":-4,"labels":false,"title":null}},
"y":{"field":"v","type":"quantitative","scale":{"domain":[-2,2.5],"nice":false,"zero":false},"axis":{"orient":"left","values":[-1.9,-1.8,-1.7,-1.6,-1.4,-1.3,-1.2,-1.1,-0.9,-0.8,-0.7,-0.6,-0.4,-0.3,-0.2,-0.1,0.1,0.2,0.3,0.4,0.6,0.7,0.8,0.9,1.1,1.2,1.3,1.4,1.6,1.7,1.8,1.9,2.1,2.2,2.3,2.4],"tickSize":-4,"labels":false,"title":null}}}},
{"data":{"name":"r2"},"mark":{"type":"point","shape":"triangle-up","filled":false,"stroke":"#ff2a2a","strokeWidth":1,"size":30,"opacity":1,"clip":true},
"encoding":{"x":{"field":"f","type":"quantitative","scale":{"domain":[1299.22,1341],"nice":false,"zero":false},"axis":{"orient":"top","values":[1300,1305,1310,1315,1320,1325,1330,1335,1340],"tickSize":-7,"labels":false,"title":null}},
"y":{"field":"v","type":"quantitative","scale":{"domain":[-2,2.5],"nice":false,"zero":false},"axis":{"orient":"right","values":[-2,-1.5,-1,-0.5,0,0.5,1,1.5,2,2.5],"tickSize":-7,"labels":false,"title":null}}}},
{"data":{"name":"r2"},"mark":{"type":"point","opacity":0},
"encoding":{"x":{"field":"f","type":"quantitative","scale":{"domain":[1299.22,1341],"nice":false,"zero":false},"axis":{"orient":"top","values":[1301,1302,1303,1304,1306,1307,1308,1309,1311,1312,1313,1314,1316,1317,1318,1319,1321,1322,1323,1324,1326,1327,1328,1329,1331,1332,1333,1334,1336,1337,1338,1339],"tickSize":-4,"labels":false,"title":null}},
"y":{"field":"v","type":"quantitative","scale":{"domain":[-2,2.5],"nice":false,"zero":false},"axis":{"orient":"right","values":[-1.9,-1.8,-1.7,-1.6,-1.4,-1.3,-1.2,-1.1,-0.9,-0.8,-0.7,-0.6,-0.4,-0.3,-0.2,-0.1,0.1,0.2,0.3,0.4,0.6,0.7,0.8,0.9,1.1,1.2,1.3,1.4,1.6,1.7,1.8,1.9,2.1,2.2,2.3,2.4],"tickSize":-4,"labels":false,"title":null}}}},
{"data":{"name":"sig"},"mark":{"type":"rule","stroke":"#000","strokeWidth":2.5,"strokeDash":[10,8]},
"encoding":{"x":{"field":"x1","type":"quantitative","scale":{"domain":[1299.22,1341],"nice":false,"zero":false},"axis":null},"x2":{"field":"x2"},"y":{"field":"y","type":"quantitative","scale":{"domain":[-2,2.5],"nice":false,"zero":false},"axis":null}}},
{"data":{"name":"lab"},"mark":{"type":"text","align":"left","baseline":"middle","fontSize":13,"fontWeight":"bold","font":"Liberation Sans","color":"#000"},
"encoding":{"x":{"field":"x","type":"quantitative","scale":{"domain":[1299.22,1341],"nice":false,"zero":false},"axis":null},"y":{"field":"y","type":"quantitative","scale":{"domain":[-2,2.5],"nice":false,"zero":false},"axis":null},"text":{"field":"t"}}}
]}
]
}
